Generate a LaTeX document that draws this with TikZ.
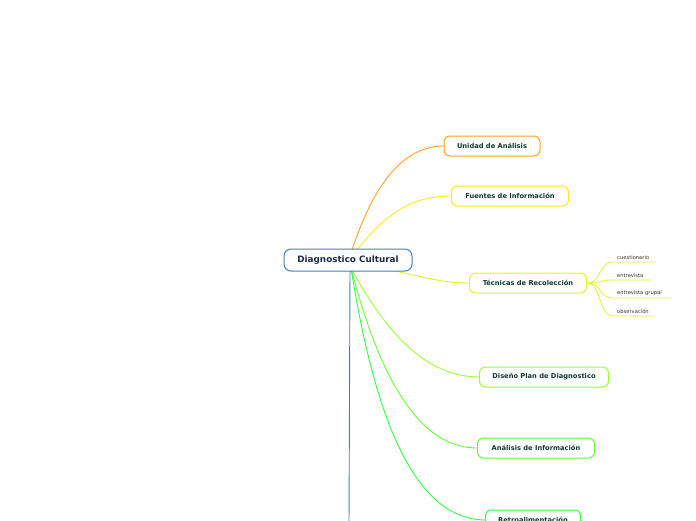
\documentclass[tikz,border=0pt]{standalone}
\usepackage{fontspec}
\setmainfont{DejaVu Sans}
\begin{document}
\begin{tikzpicture}[x=1pt,y=-1pt,
  topic/.style={draw=#1, line width=1pt, fill=white, rounded corners=6pt, minimum height=20pt, inner xsep=10pt, font=\fontsize{6.7}{8}\selectfont\bfseries, text=txt},
  sub/.style={font=\fontsize{5.2}{6}\selectfont, text=subtxt, anchor=south west, inner sep=1pt},
  link/.style={line width=0.9pt, draw=#1}]
\definecolor{txt}{HTML}{0E3B2C}
\definecolor{ctxt}{HTML}{1A2A4A}
\definecolor{subtxt}{HTML}{333333}
\definecolor{cblue}{HTML}{3F7FC6}
\definecolor{corange}{HTML}{FFA020}
\definecolor{cyellow}{HTML}{FFE81A}
\definecolor{cyg}{HTML}{DDF52A}
\definecolor{clg}{HTML}{99FF33}
\definecolor{cg}{HTML}{66FF33}
\definecolor{cgg}{HTML}{33FF44}
\useasboundingbox (0,0) rectangle (696,520);
\clip (0,0) rectangle (696,520);
% branch lines
\coordinate (bot) at (349,525);
\coordinate (s1) at (352,250);
\coordinate (s2) at (357,250);
\coordinate (s3) at (382,268);
\coordinate (s4) at (351,268);
\draw[link=cblue] (350,268) -- (bot);
\draw[link=corange] (s1) .. controls (372,190) and (400,146) .. (444,146);
\draw[link=cyellow] (s2) .. controls (385,215) and (410,196) .. (451,196);
\draw[link=cyg] (s3) .. controls (420,276) and (440,283) .. (470,283);
\draw[link=clg] (s4) .. controls (390,340) and (430,377) .. (480,377);
\draw[link=cg] (s4) .. controls (380,380) and (420,448) .. (477,448);
\draw[link=cgg] (s4) .. controls (375,420) and (415,520) .. (486,520);
% nodes
\node[draw=cblue, line width=1pt, fill=white, rounded corners=7pt, minimum height=22pt, minimum width=128pt, font=\fontsize{8.8}{10}\selectfont\bfseries, text=ctxt] (c) at (348,260) {Diagnostico Cultural};
\node[topic=corange, minimum width=96pt] (u) at (492,146) {Unidad de Análisis};
\node[topic=cyellow, minimum width=117pt] (f) at (510,196) {Fuentes de Información};
\node[topic=cyg, minimum width=117pt] (t) at (528,283) {Técnicas de Recolección};
\node[topic=clg, minimum width=129pt] (d) at (544,377) {Diseño Plan de Diagnostico};
\node[topic=cg, minimum width=117pt] (a) at (536,448) {Análisis de Información};
\node[topic=cgg, minimum width=95pt] (r) at (533,520) {Retroalimentación};
% subtopics
\coordinate (tp) at (588,283);
\foreach \n/\y/\w/\txt in {q/262/44/cuestionario, e/280/39/entrevista, g/298/59/entrevista grupal, o/316/43/observación}{
  \coordinate (\n) at (612,\y);
  \coordinate (\n e) at (612+\w,\y);
  \draw[cyg, line width=0.8pt] (tp) .. controls (600,283) and (600,\y) .. (\n) -- (\n e);
  \node[sub] at (616,\y-1) {\txt};
}
\end{tikzpicture}
\end{document}
